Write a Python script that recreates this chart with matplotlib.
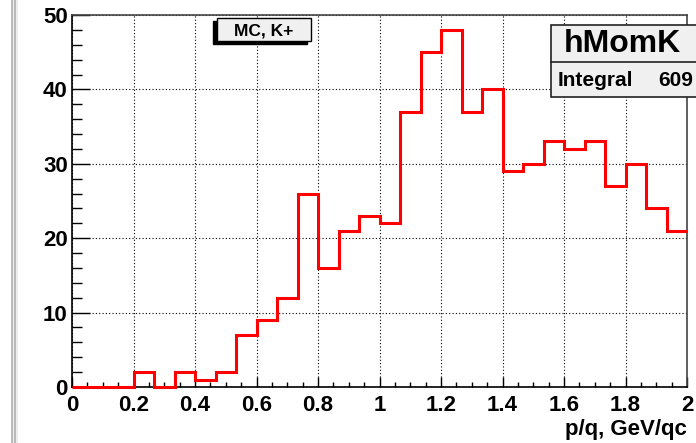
import matplotlib
matplotlib.use("Agg")
import matplotlib.pyplot as plt
from matplotlib.patches import Rectangle
from matplotlib.lines import Line2D
import numpy as np

# histogram hMomK: 30 bins from 0 to 2
edges = np.linspace(0, 2, 31)
counts = [0, 0, 0, 2, 0, 2, 1, 2, 7, 9,
          12, 26, 16, 21, 23, 22, 37, 45, 48, 37,
          40, 29, 30, 33, 32, 33, 27, 30, 24, 21]
hist_name = "hMomK"
legend_text = "MC, K+"
x_title = "p/q, GeV/qc"
xticks = [0, 0.2, 0.4, 0.6, 0.8, 1, 1.2, 1.4, 1.6, 1.8, 2]
xtick_labels = ["0", "0.2", "0.4", "0.6", "0.8", "1", "1.2", "1.4", "1.6", "1.8", "2"]
yticks = [0, 10, 20, 30, 40, 50]

W, H = 696, 443
plt.rcParams['font.family'] = ['Liberation Sans', 'DejaVu Sans']
plt.rcParams['font.weight'] = 'bold'

fig = plt.figure(figsize=(W / 100, H / 100), dpi=100)


def fx(x):
    return x / W


def fy(y):
    return 1 - y / H


left, right, top, bottom = 72, 687, 15, 387
ax = fig.add_axes([fx(left), fy(bottom), fx(right) - fx(left), fy(top) - fy(bottom)])

ax.stairs(counts, edges, baseline=None, color='red', linewidth=2.2, zorder=3, clip_on=False)
ax.set_xlim(0, 2)
ax.set_ylim(0, 50)

ax.set_xticks(xticks)
ax.set_xticklabels(xtick_labels)
ax.set_yticks(yticks)
ax.set_xticks(np.arange(0, 2.001, 0.05), minor=True)
ax.set_yticks(np.arange(0, 50.01, 2), minor=True)
ax.tick_params(axis='both', which='both', direction='in', top=False, right=False,
               colors='black', labelsize=16)
ax.tick_params(axis='x', which='major', length=7, width=1, pad=6)
ax.tick_params(axis='x', which='minor', length=3.6, width=1)
ax.tick_params(axis='y', which='major', length=13, width=1, pad=3)
ax.tick_params(axis='y', which='minor', length=7, width=1)
for lab in ax.get_xticklabels() + ax.get_yticklabels():
    lab.set_fontweight('bold')

ax.grid(True, which='major', color='black', linestyle=(0, (1, 2)), linewidth=0.8)
ax.set_axisbelow(True)
for s in ['left', 'bottom']:
    ax.spines[s].set_color('black')
    ax.spines[s].set_linewidth(1.2)
for s in ['top', 'right']:
    ax.spines[s].set_color('#444444')
    ax.spines[s].set_linewidth(1.2)

fig.text(fx(687), fy(430), x_title, ha='right', va='center', fontsize=16, fontweight='bold')

# canvas edge on the left
fig.add_artist(Rectangle((fx(12), 0), fx(6), 1, transform=fig.transFigure,
                         facecolor='#ececec', edgecolor='none'))
fig.add_artist(Line2D([fx(12), fx(12)], [0, 1], transform=fig.transFigure, color='#b0b0b0', lw=1.2))
fig.add_artist(Line2D([fx(15), fx(15)], [0, 1], transform=fig.transFigure, color='#b0b0b0', lw=1.2))

# legend box with shadow
lx0, ly0, lx1, ly1 = 217, 18, 311, 41
fig.add_artist(Rectangle((fx(lx0 - 4), fy(ly1 + 3)), fx(lx1 - lx0), fy(ly0) - fy(ly1),
                         transform=fig.transFigure, facecolor='black', edgecolor='black', zorder=5))
fig.add_artist(Rectangle((fx(lx0), fy(ly1)), fx(lx1 - lx0), fy(ly0) - fy(ly1),
                         transform=fig.transFigure, facecolor='#f0f0f0', edgecolor='black',
                         lw=1, zorder=6))
fig.text(fx((lx0 + lx1) / 2), fy((ly0 + ly1) / 2 + 1), legend_text, ha='center', va='center',
         fontsize=12.5, fontweight='bold', zorder=7)

# stats box
sx0, sy0, sx1, sy1, sdiv = 551, 25, 700, 97, 62
fig.add_artist(Rectangle((fx(sx0), fy(sy1)), fx(sx1 - sx0), fy(sy0) - fy(sy1),
                         transform=fig.transFigure, facecolor='#f0f0f0', edgecolor='#222222',
                         lw=1.2, zorder=5))
fig.add_artist(Line2D([fx(sx0), fx(sx1)], [fy(sdiv), fy(sdiv)], transform=fig.transFigure,
                      color='#222222', lw=1.2, zorder=6))
fig.text(fx(622), fy(44), hist_name, ha='center', va='center', fontsize=23,
         fontweight='bold', zorder=7)
fig.text(fx(558), fy(80), "Integral", ha='left', va='center', fontsize=15,
         fontweight='bold', zorder=7)
fig.text(fx(693), fy(80), str(int(sum(counts))), ha='right', va='center', fontsize=15,
         fontweight='bold', zorder=7)

fig.savefig("out.png", dpi=100)
